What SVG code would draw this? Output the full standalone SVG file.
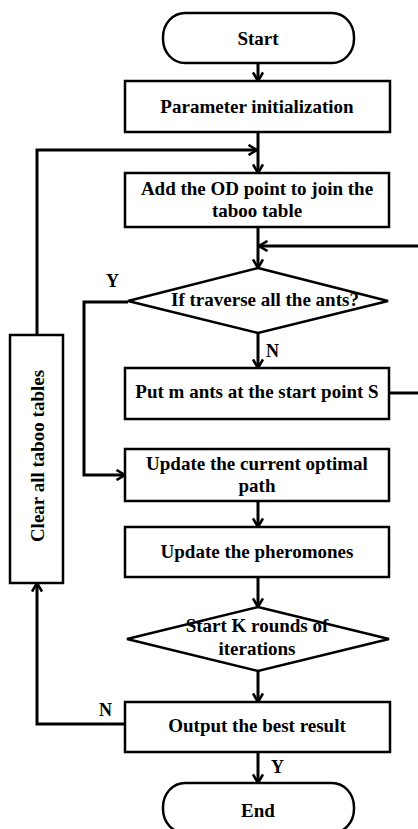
<svg xmlns="http://www.w3.org/2000/svg" width="418" height="829" viewBox="0 0 418 829">
<style>
  .box{fill:#fff;stroke:#000;stroke-width:2.5}
  .t{font-family:"Liberation Serif","Times New Roman",serif;font-weight:bold;font-size:19px;fill:#000;text-anchor:middle}
  .c{fill:none;stroke:#000;stroke-width:3}
  .lbl{font-family:"Liberation Serif","Times New Roman",serif;font-weight:bold;font-size:18px;fill:#000}
</style>
<defs>
  <marker id="arr" viewBox="0 0 12 12" refX="10.5" refY="6" markerWidth="12" markerHeight="12" markerUnits="userSpaceOnUse" orient="auto">
    <path d="M2,1 L10.5,6 L2,11" fill="none" stroke="#000" stroke-width="2.6"/>
  </marker>
</defs>
<rect width="418" height="829" fill="#fff"/>
<g id="connectors">
  <line class="c" x1="258" y1="63" x2="258" y2="81" marker-end="url(#arr)"/>
  <line class="c" x1="258" y1="132" x2="258" y2="173" marker-end="url(#arr)"/>
  <polyline class="c" points="37,335 37,150 257,150" marker-end="url(#arr)"/>
  <line class="c" x1="258" y1="227" x2="258" y2="268" marker-end="url(#arr)"/>
  <polyline class="c" points="420,246 259,246" marker-end="url(#arr)"/>
  <line class="c" x1="258" y1="333" x2="258" y2="368" marker-end="url(#arr)"/>
  <polyline class="c" points="389,393 420,393"/>
  <polyline class="c" points="128,302 84,302 84,475 125,475" marker-end="url(#arr)"/>
  <line class="c" x1="258" y1="501" x2="258" y2="527" marker-end="url(#arr)"/>
  <line class="c" x1="258" y1="577" x2="258" y2="607" marker-end="url(#arr)"/>
  <line class="c" x1="258" y1="671" x2="258" y2="702" marker-end="url(#arr)"/>
  <polyline class="c" points="125,724 37,724 37,583" marker-end="url(#arr)"/>
  <line class="c" x1="258" y1="752" x2="258" y2="783" marker-end="url(#arr)"/>
  <text class="lbl" x="106" y="287">Y</text>
  <text class="lbl" x="266" y="357">N</text>
  <text class="lbl" x="99" y="716">N</text>
  <text class="lbl" x="271" y="773">Y</text>
</g>
<g id="start">
  <rect class="box" x="163" y="13" width="191" height="50" rx="22" ry="24"/>
  <text class="t" x="258" y="45">Start</text>
</g>
<g id="param">
  <rect class="box" x="125" y="81" width="265" height="51"/>
  <text class="t" x="257" y="113">Parameter initialization</text>
</g>
<g id="addod">
  <rect class="box" x="125" y="173" width="264" height="54"/>
  <text class="t" x="257" y="195">Add the OD point to join the</text>
  <text class="t" x="257" y="217">taboo table</text>
</g>
<g id="traverse">
  <polygon class="box" points="258,268 388,301 258,333 128,301"/>
  <text class="t" x="265" y="306">If traverse all the ants?</text>
</g>
<g id="putants">
  <rect class="box" x="125" y="368" width="264" height="51"/>
  <text class="t" x="257" y="398">Put m ants at the start point S</text>
</g>
<g id="updatepath">
  <rect class="box" x="125" y="449" width="264" height="52"/>
  <text class="t" x="257" y="470">Update the current optimal</text>
  <text class="t" x="257" y="492">path</text>
</g>
<g id="pheromones">
  <rect class="box" x="125" y="527" width="264" height="50"/>
  <text class="t" x="257" y="558">Update the pheromones</text>
</g>
<g id="rounds">
  <polygon class="box" points="258,607 389,639 258,671 127,639"/>
  <text class="t" x="257" y="632">Start K rounds of</text>
  <text class="t" x="257" y="655">iterations</text>
</g>
<g id="output">
  <rect class="box" x="125" y="702" width="265" height="50"/>
  <text class="t" x="257" y="732">Output the best result</text>
</g>
<g id="end">
  <rect class="box" x="163" y="783" width="191" height="50" rx="22" ry="24"/>
  <text class="t" x="258" y="817">End</text>
</g>
<g id="clear">
  <rect class="box" x="10" y="335" width="53" height="248"/>
  <text class="t" x="0" y="0" transform="translate(44,456) rotate(-90)">Clear all taboo tables</text>
</g>
</svg>
